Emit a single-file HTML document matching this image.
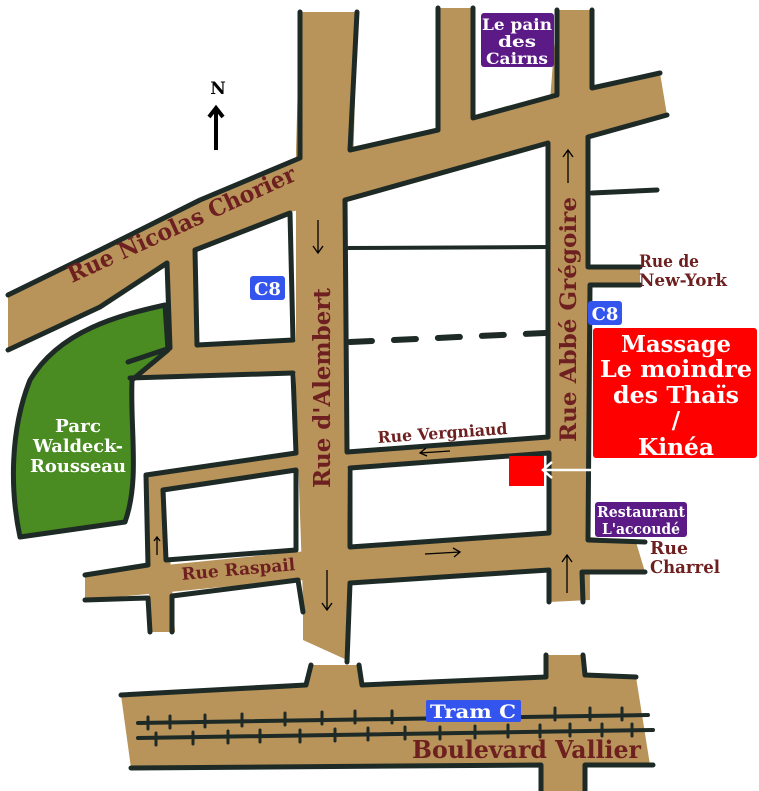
<!DOCTYPE html>
<html><head><meta charset="utf-8"><style>
html,body{margin:0;padding:0;background:#fff;width:759px;height:791px;overflow:hidden}
svg{display:block}
.t{font-family:"DejaVu Serif","Liberation Serif",serif;font-weight:bold}
</style></head><body>
<svg width="759" height="791" viewBox="0 0 759 791" xmlns="http://www.w3.org/2000/svg">
<g fill="#b8935a" stroke="none">
<polygon points="8,295 100,250 200,200 300,158 350,150 440,130 473,118 555,95 592,88 660,73 667,115 590,137 548,143 440,175 345,200 290,212 195,250 100,305 8,350"/>
<polygon points="300,12 357,12 350,300 347,450 348,600 347,660 303,640 303,600 296,400 296,150"/>
<polygon points="557,10 592,10 588,140 590,600 549,602 547,140"/>
<polygon points="438,8 473,8 473,125 438,135"/>
<polygon points="167,250 195,245 197,375 167,375"/>
<polygon points="128,360 170,348 300,340 300,373 130,378"/>
<polygon points="146,475 296,453 549,437 549,453 350,468 296,470 165,490"/>
<polygon points="146,475 165,480 175,632 150,632"/>
<polygon points="85,573 296,552 553,533 636,542 645,572 553,570 350,582 296,580 85,600"/>
<polygon points="121,695 306,685 311,665 359,665 362,685 546,677 546,655 583,655 585,675 636,677 650,765 585,765 585,791 541,791 541,765 131,768"/>
<polygon points="588,267 640,267 640,285 588,285"/>
</g>
<path d="M165,305 C120,315 60,330 30,380 C10,430 10,490 20,537 L125,522 C140,480 130,430 132,380 L168,350 Z" fill="#4a8c22" stroke="#1e2a26" stroke-width="5" stroke-linejoin="round"/>
<g fill="#fff" stroke="#1e2a26" stroke-width="5" stroke-linejoin="round">
<polygon points="195,250 290,213 293,340 197,345"/>
<polygon points="345,200 548,143 548,437 347,452"/>
<polygon points="350,468 549,453 549,533 350,547"/>
<polygon points="163,490 296,470 296,550 166,560"/>
</g>
<g fill="none" stroke="#1e2a26" stroke-width="5" stroke-linecap="round" stroke-linejoin="round">
<polyline points="130,378 293,373 296,453 146,475 148,565 85,575"/>
<polyline points="85,600 148,598 150,632"/>
<polyline points="172,632 172,596 298,580 303,612"/>
<polyline points="347,662 350,583 549,570 549,602"/>
<polyline points="583,602 582,572 645,572"/>
<polyline points="645,542 588,540 590,285 640,285"/>
<polyline points="640,267 588,267 588,137 667,115"/>
<polyline points="592,193 657,190"/>
<polyline points="8,295 100,250 200,200 300,158 300,12"/>
<polyline points="357,12 350,150 438,130 438,8"/>
<polyline points="473,8 473,118 557,95 557,10"/>
<polyline points="592,10 592,88 660,73"/>
<polyline points="8,350 100,307 167,263 170,348 128,362"/>
<polyline points="121,695 306,685 311,665"/>
<polyline points="359,665 362,685 546,677 546,655"/>
<polyline points="583,655 585,675 636,677"/>
<polyline points="131,768 541,765 541,791"/>
<polyline points="585,791 585,765 653,765"/>
<line x1="345" y1="248" x2="548" y2="247" stroke-width="4"/>
<line x1="350" y1="342" x2="545" y2="333" stroke-dasharray="22,22" stroke-width="6"/>
<polyline points="138,723 648,715" stroke-width="4"/>
<polyline points="138,738 653,730" stroke-width="4"/>
</g>
<g stroke="#1e2a26" stroke-width="3" stroke-linecap="round">
<path d="M148,717v12M170,716v12M205,715v12M242,714v12M285,713v12M322,712v12M355,711v12M392,711v12M555,708v12M590,708v12M622,708v12M156,733v12M193,732v12M228,731v12M260,730v12M300,730v12M335,729v12M368,728v12M405,727v12M440,727v12M475,726v12M508,725v12M540,725v12M570,724v12M602,724v12M632,724v12"/>
</g>
<g stroke="#000" fill="none" stroke-width="1.3">
<path d="M318,220v33M313,246l5,7l5,-7"/>
<path d="M568,150v33M563,157l5,-7l5,7"/>
<path d="M420,453l30,-2M426,448l-6,5l7,3"/>
<path d="M425,554l35,-2M453,548l7,4l-6,5"/>
<path d="M327,570v40M322,603l5,7l5,-7"/>
<path d="M567,555v38M562,562l5,-7l5,7"/>
<path d="M157,537v18M154,541l3,-4l3,4"/>
</g>
<path d="M216,150V108M209,117l7,-9l7,9" stroke="#000" stroke-width="4" fill="none"/>
<text x="218" y="94" class="t" font-size="17" text-anchor="middle" fill="#000">N</text>
<g class="t" fill="#6e1f1f">
<text x="72" y="283" font-size="23" transform="rotate(-24.6 72 283)" textLength="248" lengthAdjust="spacingAndGlyphs">Rue Nicolas Chorier</text>
<text x="330" y="488" font-size="23" transform="rotate(-90 330 488)" textLength="200" lengthAdjust="spacingAndGlyphs">Rue d'Alembert</text>
<text x="576" y="442" font-size="22" transform="rotate(-90 576 442)" textLength="245" lengthAdjust="spacingAndGlyphs">Rue Abbé Grégoire</text>
<text x="378" y="443" font-size="16" transform="rotate(-4 378 443)" textLength="130" lengthAdjust="spacingAndGlyphs">Rue Vergniaud</text>
<text x="182" y="580" font-size="17" transform="rotate(-5 182 580)" textLength="114" lengthAdjust="spacingAndGlyphs">Rue Raspail</text>
<text x="639" y="267" font-size="17" textLength="60" lengthAdjust="spacingAndGlyphs">Rue de</text>
<text x="639" y="286" font-size="17" textLength="88" lengthAdjust="spacingAndGlyphs">New-York</text>
<text x="650" y="554" font-size="18" textLength="38" lengthAdjust="spacingAndGlyphs">Rue</text>
<text x="650" y="573" font-size="18" textLength="70" lengthAdjust="spacingAndGlyphs">Charrel</text>
<text x="412" y="758" font-size="24" textLength="229" lengthAdjust="spacingAndGlyphs">Boulevard Vallier</text>
</g>
<g class="t" fill="#fff" text-anchor="middle">
<text x="78" y="432" font-size="18" textLength="46" lengthAdjust="spacingAndGlyphs">Parc</text>
<text x="78" y="452" font-size="18" textLength="90" lengthAdjust="spacingAndGlyphs">Waldeck-</text>
<text x="78" y="472" font-size="18" textLength="96" lengthAdjust="spacingAndGlyphs">Rousseau</text>
</g>
<rect x="250" y="276" width="35" height="24" rx="3" fill="#3355ee"/>
<rect x="588" y="301" width="34" height="24" rx="3" fill="#3355ee"/>
<rect x="426" y="700" width="95" height="22" rx="2" fill="#3355ee"/>
<rect x="481" y="13" width="73" height="54" rx="3" fill="#5b1a86"/>
<rect x="595" y="502" width="92" height="35" rx="3" fill="#5b1a86"/>
<rect x="593" y="328" width="164" height="130" rx="3" fill="#ff0000"/>
<rect x="509" y="456" width="35" height="30" fill="#ff0000"/>
<path d="M595,470H543M552,462l-9,8l9,8" stroke="#fff" stroke-width="2.5" fill="none"/>
<g class="t" fill="#fff" text-anchor="middle">
<text x="267.5" y="295" font-size="18">C8</text>
<text x="605" y="320" font-size="18">C8</text>
<text x="473" y="718" font-size="19" textLength="86" lengthAdjust="spacingAndGlyphs">Tram C</text>
<text x="517" y="30" font-size="16" textLength="70" lengthAdjust="spacingAndGlyphs">Le pain</text>
<text x="517" y="47" font-size="16" textLength="38" lengthAdjust="spacingAndGlyphs">des</text>
<text x="517" y="64" font-size="16" textLength="62" lengthAdjust="spacingAndGlyphs">Cairns</text>
<text x="641" y="517" font-size="15" textLength="88" lengthAdjust="spacingAndGlyphs">Restaurant</text>
<text x="641" y="534" font-size="15" textLength="78" lengthAdjust="spacingAndGlyphs">L'accoudé</text>
<text x="676" y="352" font-size="23" textLength="110" lengthAdjust="spacingAndGlyphs">Massage</text>
<text x="676" y="377" font-size="23" textLength="152" lengthAdjust="spacingAndGlyphs">Le moindre</text>
<text x="676" y="403" font-size="23" textLength="126" lengthAdjust="spacingAndGlyphs">des Thaïs</text>
<text x="676" y="428" font-size="23">/</text>
<text x="676" y="455" font-size="23" textLength="76" lengthAdjust="spacingAndGlyphs">Kinéa</text>
</g>
</svg>
</body></html>
